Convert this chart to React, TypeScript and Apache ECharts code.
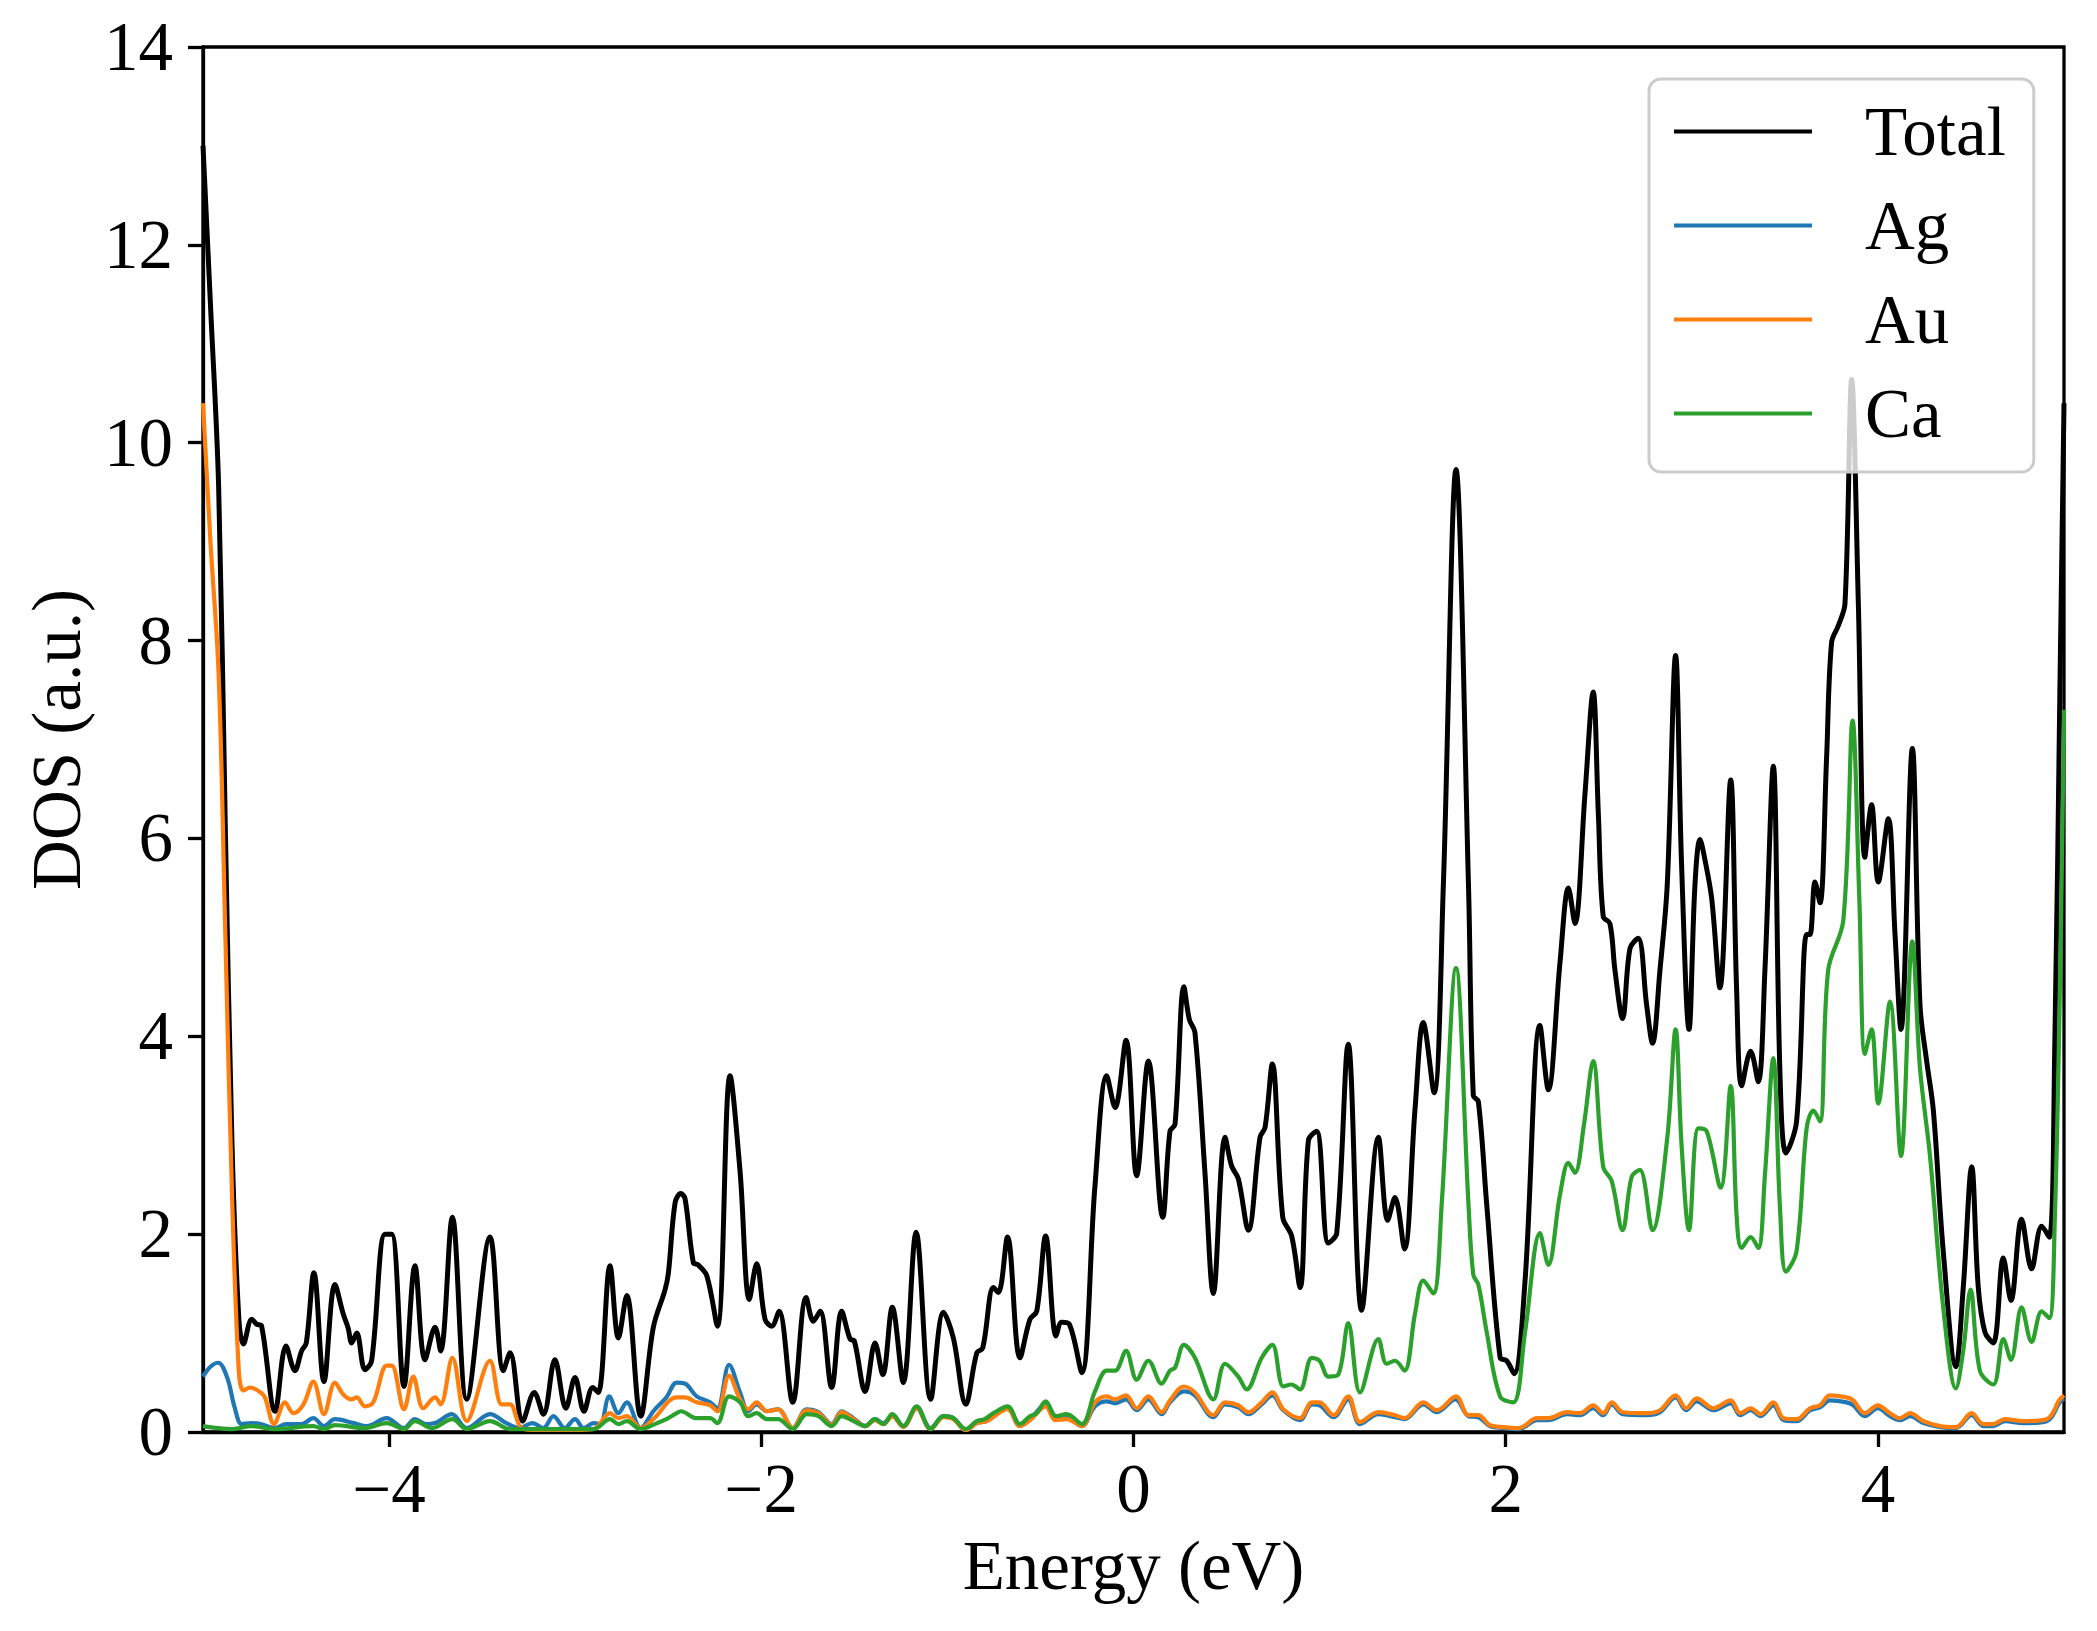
import React, { useEffect, useRef } from "react";
import * as echarts from "echarts";

const xTicks = [-4, -2, 0, 2, 4];
const yTicks = [0, 2, 4, 6, 8, 10, 12, 14];
const seriesNames = ["Total", "Ag", "Au", "Ca"];
const seriesColors = ["#000000", "#1f77b4", "#ff7f0e", "#2ca02c"];

const total: [number, number][] = [
  [-5.0, 13.0], [-4.96, 11.4], [-4.916, 9.56], [-4.88, 6.1], [-4.844, 2.9], [-4.807, 1.13], [-4.783, 0.89],
  [-4.738, 1.14], [-4.712, 1.09], [-4.685, 1.07], [-4.613, 0.21], [-4.554, 0.87], [-4.506, 0.62], [-4.47, 0.82],
  [-4.445, 0.9], [-4.404, 1.61], [-4.35, 0.51], [-4.291, 1.49], [-4.246, 1.19], [-4.22, 1.05], [-4.201, 0.9],
  [-4.174, 1.0], [-4.13, 0.63], [-4.094, 0.72], [-4.022, 2.0], [-3.986, 2.0], [-3.92, 0.46], [-3.861, 1.68],
  [-3.807, 0.73], [-3.753, 1.06], [-3.723, 0.82], [-3.66, 2.17], [-3.583, 0.33], [-3.458, 1.97], [-3.386, 0.62],
  [-3.35, 0.8], [-3.282, 0.11], [-3.22, 0.4], [-3.171, 0.18], [-3.109, 0.73], [-3.05, 0.24], [-3.001, 0.55],
  [-2.953, 0.21], [-2.906, 0.45], [-2.876, 0.4], [-2.813, 1.68], [-2.768, 0.95], [-2.723, 1.38], [-2.648, 0.16],
  [-2.58, 1.06], [-2.517, 1.44], [-2.499, 1.61], [-2.463, 2.32], [-2.433, 2.41], [-2.41, 2.36], [-2.365, 1.71],
  [-2.34, 1.69], [-2.293, 1.58], [-2.236, 1.07], [-2.168, 3.6], [-2.114, 2.63], [-2.064, 1.34], [-2.025, 1.7],
  [-1.98, 1.14], [-1.944, 1.07], [-1.905, 1.22], [-1.831, 0.3], [-1.759, 1.36], [-1.72, 1.12], [-1.684, 1.22],
  [-1.622, 0.45], [-1.568, 1.22], [-1.523, 0.94], [-1.5, 0.92], [-1.442, 0.41], [-1.389, 0.9], [-1.347, 0.58],
  [-1.296, 1.26], [-1.237, 0.5], [-1.168, 2.02], [-1.09, 0.33], [-1.021, 1.21], [-0.968, 0.95], [-0.901, 0.28],
  [-0.842, 0.8], [-0.81, 0.85], [-0.753, 1.46], [-0.726, 1.41], [-0.677, 1.97], [-0.61, 0.75], [-0.556, 1.14],
  [-0.52, 1.22], [-0.472, 1.98], [-0.416, 0.97], [-0.386, 1.11], [-0.345, 1.09], [-0.278, 0.6], [-0.207, 2.49],
  [-0.144, 3.6], [-0.099, 3.28], [-0.04, 3.96], [0.017, 2.59], [0.08, 3.75], [0.157, 2.17], [0.196, 3.04],
  [0.223, 3.11], [0.271, 4.5], [0.3, 4.17], [0.33, 4.04], [0.384, 2.62], [0.429, 1.4], [0.492, 2.98],
  [0.527, 2.69], [0.563, 2.56], [0.617, 2.04], [0.68, 2.98], [0.707, 3.08], [0.746, 3.72], [0.802, 2.17],
  [0.85, 1.98], [0.895, 1.46], [0.94, 2.95], [0.984, 3.04], [1.047, 1.91], [1.092, 2.01], [1.154, 3.92],
  [1.226, 1.23], [1.316, 2.98], [1.366, 2.14], [1.405, 2.37], [1.456, 1.85], [1.513, 3.27], [1.557, 4.14],
  [1.615, 3.43], [1.665, 5.53], [1.733, 9.73], [1.8, 5.53], [1.826, 3.4], [1.853, 3.34], [1.898, 2.3],
  [1.97, 0.75], [2.005, 0.72], [2.045, 0.59], [2.104, 1.53], [2.184, 4.11], [2.229, 3.46], [2.292, 4.75],
  [2.337, 5.5], [2.372, 5.14], [2.426, 6.45], [2.47, 7.48], [2.498, 6.24], [2.524, 5.21], [2.56, 5.14],
  [2.587, 4.67], [2.628, 4.18], [2.668, 4.89], [2.712, 4.99], [2.757, 4.32], [2.789, 3.93], [2.829, 4.67],
  [2.868, 5.53], [2.913, 7.85], [2.945, 5.74], [2.985, 4.07], [3.017, 5.53], [3.044, 5.99], [3.071, 5.78],
  [3.107, 5.39], [3.151, 4.49], [3.209, 6.59], [3.241, 4.46], [3.268, 3.5], [3.316, 3.85], [3.357, 3.54],
  [3.393, 4.67], [3.438, 6.73], [3.474, 3.61], [3.506, 2.82], [3.563, 3.14], [3.617, 5.03], [3.635, 5.03],
  [3.662, 5.56], [3.689, 5.35], [3.724, 6.8], [3.751, 7.98], [3.787, 8.15], [3.823, 8.37], [3.859, 10.64],
  [3.895, 8.37], [3.93, 5.81], [3.966, 6.34], [4.002, 5.56], [4.056, 6.2], [4.092, 5.03], [4.124, 4.07],
  [4.185, 6.91], [4.226, 4.32], [4.262, 3.75], [4.298, 3.25], [4.351, 1.83], [4.419, 0.66], [4.459, 1.47],
  [4.504, 2.68], [4.539, 1.47], [4.575, 1.01], [4.62, 0.9], [4.674, 1.76], [4.715, 1.33], [4.772, 2.15],
  [4.826, 1.65], [4.88, 2.08], [4.921, 1.97], [4.951, 3.96], [4.978, 7.51], [5.0, 10.4],
];

const ag: [number, number][] = [
  [-5.0, 0.56], [-4.96, 0.66], [-4.918, 0.7], [-4.87, 0.55], [-4.83, 0.25], [-4.792, 0.08], [-4.74, 0.09],
  [-4.69, 0.08], [-4.613, 0.04], [-4.554, 0.08], [-4.47, 0.08], [-4.407, 0.14], [-4.35, 0.06], [-4.291, 0.13],
  [-4.19, 0.09], [-4.12, 0.06], [-4.013, 0.14], [-3.92, 0.04], [-3.861, 0.13], [-3.8, 0.08], [-3.753, 0.09],
  [-3.663, 0.18], [-3.583, 0.04], [-3.458, 0.18], [-3.37, 0.09], [-3.3, 0.04], [-3.23, 0.09], [-3.171, 0.04],
  [-3.117, 0.16], [-3.056, 0.04], [-3.001, 0.13], [-2.955, 0.04], [-2.9, 0.09], [-2.866, 0.08], [-2.817, 0.36],
  [-2.768, 0.19], [-2.723, 0.3], [-2.648, 0.04], [-2.58, 0.21], [-2.51, 0.35], [-2.455, 0.5], [-2.41, 0.49],
  [-2.347, 0.36], [-2.275, 0.3], [-2.236, 0.24], [-2.173, 0.68], [-2.114, 0.4], [-2.07, 0.21], [-2.025, 0.28],
  [-1.97, 0.21], [-1.91, 0.23], [-1.831, 0.04], [-1.756, 0.23], [-1.693, 0.2], [-1.622, 0.08], [-1.568, 0.21],
  [-1.505, 0.14], [-1.442, 0.06], [-1.389, 0.13], [-1.344, 0.09], [-1.296, 0.16], [-1.237, 0.06], [-1.165, 0.24],
  [-1.09, 0.04], [-1.021, 0.16], [-0.968, 0.14], [-0.901, 0.02], [-0.842, 0.09], [-0.789, 0.11], [-0.677, 0.24],
  [-0.61, 0.06], [-0.556, 0.13], [-0.472, 0.28], [-0.42, 0.13], [-0.359, 0.14], [-0.278, 0.06], [-0.207, 0.26],
  [-0.144, 0.31], [-0.099, 0.29], [-0.04, 0.33], [0.017, 0.22], [0.08, 0.33], [0.151, 0.18], [0.196, 0.3],
  [0.271, 0.41], [0.33, 0.37], [0.429, 0.15], [0.492, 0.28], [0.563, 0.25], [0.617, 0.18], [0.689, 0.28],
  [0.746, 0.37], [0.805, 0.22], [0.895, 0.12], [0.958, 0.28], [1.0, 0.27], [1.075, 0.15], [1.154, 0.33],
  [1.217, 0.08], [1.316, 0.18], [1.405, 0.15], [1.456, 0.13], [1.557, 0.28], [1.63, 0.2], [1.73, 0.33],
  [1.8, 0.16], [1.853, 0.15], [1.915, 0.06], [1.99, 0.04], [2.07, 0.03], [2.17, 0.12], [2.229, 0.12],
  [2.33, 0.18], [2.4, 0.17], [2.47, 0.24], [2.524, 0.17], [2.57, 0.28], [2.63, 0.18], [2.757, 0.17],
  [2.829, 0.2], [2.913, 0.35], [2.97, 0.22], [3.026, 0.31], [3.116, 0.22], [3.209, 0.29], [3.26, 0.17],
  [3.316, 0.22], [3.37, 0.16], [3.438, 0.27], [3.494, 0.12], [3.563, 0.11], [3.635, 0.22], [3.689, 0.25],
  [3.742, 0.32], [3.832, 0.3], [3.868, 0.27], [3.93, 0.16], [3.999, 0.24], [4.065, 0.16], [4.119, 0.12],
  [4.173, 0.16], [4.245, 0.09], [4.334, 0.05], [4.419, 0.04], [4.504, 0.17], [4.566, 0.06], [4.62, 0.06],
  [4.683, 0.11], [4.782, 0.09], [4.907, 0.11], [4.978, 0.3], [5.0, 0.34],
];

const au: [number, number][] = [
  [-5.0, 10.4], [-4.96, 9.0], [-4.916, 7.66], [-4.88, 5.03], [-4.844, 2.39], [-4.807, 0.6], [-4.783, 0.42],
  [-4.747, 0.45], [-4.69, 0.4], [-4.667, 0.35], [-4.618, 0.08], [-4.559, 0.3], [-4.515, 0.19], [-4.46, 0.28],
  [-4.407, 0.51], [-4.35, 0.18], [-4.291, 0.5], [-4.246, 0.38], [-4.201, 0.33], [-4.174, 0.35], [-4.13, 0.26],
  [-4.085, 0.3], [-4.013, 0.67], [-3.986, 0.67], [-3.92, 0.23], [-3.87, 0.56], [-3.816, 0.24], [-3.753, 0.35],
  [-3.723, 0.28], [-3.66, 0.75], [-3.583, 0.11], [-3.458, 0.72], [-3.395, 0.28], [-3.35, 0.28], [-3.288, 0.04],
  [-3.2, 0.02], [-3.0, 0.02], [-2.9, 0.03], [-2.813, 0.19], [-2.768, 0.14], [-2.723, 0.16], [-2.648, 0.04],
  [-2.58, 0.13], [-2.455, 0.35], [-2.41, 0.35], [-2.347, 0.3], [-2.275, 0.27], [-2.236, 0.21], [-2.173, 0.57],
  [-2.114, 0.33], [-2.07, 0.23], [-2.025, 0.3], [-1.97, 0.21], [-1.91, 0.23], [-1.831, 0.04], [-1.756, 0.22],
  [-1.693, 0.19], [-1.622, 0.07], [-1.568, 0.2], [-1.505, 0.13], [-1.442, 0.06], [-1.389, 0.12], [-1.344, 0.08],
  [-1.296, 0.16], [-1.237, 0.05], [-1.165, 0.24], [-1.09, 0.03], [-1.021, 0.15], [-0.968, 0.13], [-0.901, 0.02],
  [-0.842, 0.09], [-0.789, 0.11], [-0.677, 0.23], [-0.61, 0.06], [-0.556, 0.12], [-0.472, 0.26], [-0.42, 0.12],
  [-0.359, 0.13], [-0.278, 0.06], [-0.207, 0.3], [-0.144, 0.36], [-0.099, 0.33], [-0.04, 0.37], [0.017, 0.24],
  [0.08, 0.36], [0.151, 0.2], [0.196, 0.32], [0.271, 0.46], [0.33, 0.4], [0.429, 0.17], [0.492, 0.3],
  [0.563, 0.27], [0.617, 0.2], [0.689, 0.3], [0.746, 0.4], [0.805, 0.23], [0.895, 0.14], [0.958, 0.3],
  [1.0, 0.3], [1.075, 0.17], [1.154, 0.36], [1.217, 0.1], [1.316, 0.2], [1.405, 0.17], [1.456, 0.14],
  [1.557, 0.3], [1.63, 0.22], [1.733, 0.36], [1.8, 0.17], [1.853, 0.17], [1.915, 0.07], [1.99, 0.05],
  [2.07, 0.04], [2.17, 0.14], [2.229, 0.14], [2.33, 0.2], [2.4, 0.19], [2.47, 0.27], [2.524, 0.19],
  [2.57, 0.3], [2.63, 0.2], [2.757, 0.19], [2.829, 0.22], [2.913, 0.37], [2.97, 0.24], [3.026, 0.34],
  [3.116, 0.24], [3.209, 0.32], [3.26, 0.19], [3.316, 0.24], [3.37, 0.18], [3.438, 0.3], [3.494, 0.14],
  [3.563, 0.13], [3.635, 0.24], [3.689, 0.27], [3.742, 0.37], [3.832, 0.35], [3.868, 0.32], [3.93, 0.19],
  [3.999, 0.27], [4.065, 0.19], [4.119, 0.14], [4.173, 0.19], [4.245, 0.11], [4.334, 0.06], [4.419, 0.05],
  [4.504, 0.19], [4.566, 0.08], [4.62, 0.08], [4.683, 0.13], [4.782, 0.11], [4.907, 0.13], [4.978, 0.33],
  [5.0, 0.37],
];

const ca: [number, number][] = [
  [-5.0, 0.06], [-4.92, 0.04], [-4.84, 0.03], [-4.74, 0.06], [-4.62, 0.03], [-4.407, 0.06], [-4.35, 0.03],
  [-4.291, 0.07], [-4.13, 0.04], [-4.013, 0.09], [-3.92, 0.03], [-3.861, 0.11], [-3.77, 0.04], [-3.66, 0.13],
  [-3.583, 0.03], [-3.458, 0.11], [-3.35, 0.03], [-2.9, 0.03], [-2.813, 0.13], [-2.768, 0.08], [-2.723, 0.11],
  [-2.648, 0.03], [-2.56, 0.09], [-2.51, 0.13], [-2.455, 0.19], [-2.433, 0.21], [-2.347, 0.14], [-2.275, 0.14],
  [-2.236, 0.09], [-2.173, 0.36], [-2.114, 0.3], [-2.07, 0.16], [-2.025, 0.19], [-1.97, 0.13], [-1.91, 0.13],
  [-1.831, 0.03], [-1.756, 0.18], [-1.693, 0.16], [-1.622, 0.06], [-1.568, 0.16], [-1.505, 0.11], [-1.442, 0.06],
  [-1.389, 0.13], [-1.344, 0.08], [-1.296, 0.18], [-1.237, 0.06], [-1.165, 0.26], [-1.09, 0.03], [-1.021, 0.16],
  [-0.968, 0.14], [-0.901, 0.03], [-0.842, 0.11], [-0.8, 0.13], [-0.753, 0.19], [-0.677, 0.26], [-0.61, 0.08],
  [-0.556, 0.16], [-0.52, 0.19], [-0.472, 0.31], [-0.416, 0.16], [-0.359, 0.18], [-0.278, 0.08], [-0.207, 0.41],
  [-0.144, 0.62], [-0.099, 0.62], [-0.04, 0.82], [0.017, 0.53], [0.08, 0.72], [0.151, 0.49], [0.196, 0.62],
  [0.223, 0.65], [0.271, 0.88], [0.33, 0.75], [0.429, 0.33], [0.492, 0.69], [0.563, 0.56], [0.608, 0.43],
  [0.689, 0.75], [0.746, 0.88], [0.805, 0.46], [0.85, 0.48], [0.895, 0.43], [0.958, 0.75], [1.0, 0.72],
  [1.047, 0.56], [1.1, 0.58], [1.154, 1.1], [1.217, 0.4], [1.316, 0.94], [1.36, 0.69], [1.405, 0.72],
  [1.456, 0.62], [1.513, 1.2], [1.557, 1.53], [1.611, 1.4], [1.656, 2.3], [1.733, 4.69], [1.8, 2.3],
  [1.826, 1.59], [1.853, 1.49], [1.898, 1.01], [1.97, 0.36], [2.041, 0.3], [2.104, 1.01], [2.184, 2.01],
  [2.229, 1.69], [2.292, 2.4], [2.337, 2.72], [2.372, 2.62], [2.42, 3.1], [2.47, 3.75], [2.524, 2.68],
  [2.569, 2.54], [2.628, 2.04], [2.677, 2.58], [2.721, 2.65], [2.789, 2.04], [2.868, 2.97], [2.913, 4.07],
  [2.945, 2.9], [2.985, 2.04], [3.035, 3.07], [3.08, 3.04], [3.155, 2.47], [3.209, 3.5], [3.241, 2.18],
  [3.268, 1.86], [3.316, 1.97], [3.357, 1.86], [3.393, 2.6], [3.438, 3.78], [3.474, 2.26], [3.506, 1.62],
  [3.563, 1.83], [3.617, 3.07], [3.653, 3.25], [3.689, 3.14], [3.733, 4.67], [3.814, 5.17], [3.864, 7.19],
  [3.9, 5.4], [3.93, 3.82], [3.966, 4.07], [4.002, 3.32], [4.065, 4.35], [4.124, 2.79], [4.185, 4.96],
  [4.226, 3.68], [4.28, 2.79], [4.351, 1.26], [4.419, 0.44], [4.459, 0.83], [4.498, 1.44], [4.548, 0.62],
  [4.62, 0.48], [4.674, 0.94], [4.715, 0.73], [4.772, 1.26], [4.826, 0.91], [4.88, 1.22], [4.921, 1.15],
  [4.951, 2.18], [4.978, 4.5], [5.0, 7.3],
];

const seriesData = [total, ag, au, ca];

const FONT = "'Liberation Serif', 'Times New Roman', 'DejaVu Serif', serif";
const FS = 69;

function fmt(v: number): string {
  return v < 0 ? "\u2212" + Math.abs(v) : String(v);
}

export default function App() {
  const ref = useRef<HTMLDivElement>(null);
  useEffect(() => {
    if (!ref.current) return;
    const chart = echarts.init(ref.current, null, { renderer: "svg" });
    chart.setOption({
      animation: false,
      backgroundColor: "#ffffff",
      textStyle: { fontFamily: FONT },
      grid: {
        left: 203,
        top: 47,
        width: 1861,
        height: 1385,
        show: true,
        borderColor: "#000",
        borderWidth: 3.3,
        backgroundColor: "transparent",
      },
      legend: {
        orient: "vertical",
        left: 1649,
        top: 79,
        padding: [18, 28, 24, 25],
        itemWidth: 138,
        itemHeight: 4,
        itemGap: 25,
        icon: "rect",
        backgroundColor: "rgba(255,255,255,0.8)",
        borderColor: "#cccccc",
        borderWidth: 3,
        borderRadius: 12,
        data: seriesNames,
        textStyle: {
          fontFamily: FONT,
          fontSize: FS,
          color: "#000",
          padding: [0, 0, 0, 48],
        },
      },
      xAxis: {
        type: "value",
        min: -5,
        max: 5,
        name: "Energy (eV)",
        nameLocation: "middle",
        nameGap: 99,
        nameTextStyle: { fontFamily: FONT, fontSize: FS, color: "#000" },
        axisLine: { show: true, onZero: false, lineStyle: { color: "#000", width: 3.3 } },
        axisTick: { show: true, inside: false, length: 15, customValues: xTicks, lineStyle: { color: "#000", width: 3.3 } },
        axisLabel: { customValues: xTicks, formatter: fmt, fontFamily: FONT, fontSize: FS, color: "#000", margin: 22 },
        splitLine: { show: false },
      },
      yAxis: {
        type: "value",
        min: 0,
        max: 14,
        interval: 2,
        name: "DOS (a.u.)",
        nameLocation: "middle",
        nameGap: 112,
        nameTextStyle: { fontFamily: FONT, fontSize: FS, color: "#000" },
        axisLine: { show: true, onZero: false, lineStyle: { color: "#000", width: 3.3 } },
        axisTick: { show: true, inside: false, length: 15, lineStyle: { color: "#000", width: 3.3 } },
        axisLabel: { formatter: fmt, fontFamily: FONT, fontSize: FS, color: "#000", margin: 30 },
        splitLine: { show: false },
      },
      series: seriesNames.map((name, i) => ({
        name,
        type: "line",
        data: seriesData[i],
        showSymbol: false,
        symbol: "none",
        smooth: 0.35,
        clip: true,
        color: seriesColors[i],
        lineStyle: { color: seriesColors[i], width: i === 0 ? 5 : 4.2 },
        itemStyle: { color: seriesColors[i] },
      })),
    });
    return () => chart.dispose();
  }, []);
  return (
    <div
      ref={ref}
      style={{ position: "absolute", left: 0, top: 0, width: 2097, height: 1631, background: "#fff" }}
    />
  );
}
